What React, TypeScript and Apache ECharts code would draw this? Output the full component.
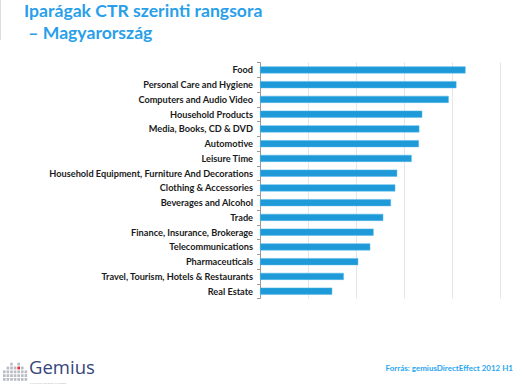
import React, { useEffect, useRef } from "react";
import * as echarts from "echarts";

const categories = [
  "Food",
  "Personal Care and Hygiene",
  "Computers and Audio Video",
  "Household Products",
  "Media, Books, CD & DVD",
  "Automotive",
  "Leisure Time",
  "Household Equipment, Furniture And Decorations",
  "Clothing & Accessories",
  "Beverages and Alcohol",
  "Trade",
  "Finance, Insurance, Brokerage",
  "Telecommunications",
  "Pharmaceuticals",
  "Travel, Tourism, Hotels & Restaurants",
  "Real Estate",
];
const values = [4.27, 4.08, 3.92, 3.37, 3.31, 3.3, 3.15, 2.85, 2.81, 2.72, 2.56, 2.36, 2.29, 2.04, 1.74, 1.5];
const titleLines = ["Iparágak CTR szerinti rangsora", " – Magyarország"];
const sourceText = "Forrás: gemiusDirectEffect 2012 H1";

export default function App() {
  const ref = useRef<HTMLDivElement>(null);
  useEffect(() => {
    const chart = echarts.init(ref.current!, null, { renderer: "svg" });
    const logoSquares: any[] = [];
    const cols = [2, 3, 4, 3, 4, 3, 2];
    for (let c = 0; c < 7; c++) {
      for (let r = 0; r < 6; r++) {
        const isRed = c === 4 && r === 2;
        logoSquares.push({
          type: "rect",
          shape: { x: 3 + c * 3.6, y: 359 + r * 3.8, width: 2.6, height: 2.8 },
          style: { fill: isRed ? "#e8262b" : r < 6 - cols[c] - 1 ? "#ffffff" : "#b9bcc4" },
        });
      }
    }
    chart.setOption({
      animation: false,
      grid: { left: 260, top: 62.5, width: 240.7, height: 236, containLabel: false },
      xAxis: {
        type: "value",
        min: 0,
        max: 5,
        interval: 1,
        axisLabel: { show: false },
        axisLine: { show: false },
        axisTick: { show: false },
        splitLine: { show: true, lineStyle: { color: "#e6e6e6", width: 1 } },
      },
      yAxis: {
        type: "category",
        data: categories,
        inverse: true,
        axisLine: { show: true, lineStyle: { color: "#9a9a9a", width: 1 } },
        axisTick: { show: true, length: 3, lineStyle: { color: "#9a9a9a" } },
        axisLabel: {
          color: "#1a1a1a",
          fontFamily: "Lato",
          fontWeight: "bold",
          fontSize: 9.2,
          margin: 7,
        },
      },
      series: [
        {
          type: "bar",
          data: values,
          barWidth: 7,
          itemStyle: { color: "#1e9ad9", borderColor: "#52b6e8", borderWidth: 0.5 },
        },
      ],
      graphic: [
        { type: "line", shape: { x1: 0.5, y1: 0, x2: 0.5, y2: 40 }, style: { stroke: "#dddddd", lineWidth: 1 } },
        {
          type: "text",
          left: 24,
          top: 1,
          style: { text: titleLines[0], fill: "#2a9fe9", font: "bold 17.6px Lato" },
        },
        {
          type: "text",
          left: 24,
          top: 23,
          style: { text: titleLines[1], fill: "#2a9fe9", font: "bold 17.6px Lato" },
        },
        ...logoSquares,
        {
          type: "text",
          left: 29,
          top: 357,
          style: { text: "Gemius", fill: "#36457a", font: "18.5px 'Open Sans'" },
        },
        {
          type: "text",
          left: 30,
          top: 381,
          style: { text: "THINKING  BEYOND  NUMBERS", fill: "#b0b4c0", font: "2.5px 'Open Sans'" },
        },
        {
          type: "text",
          right: 15,
          top: 364,
          style: { text: sourceText, fill: "#2aa6f2", font: "bold 8px Lato" },
        },
      ],
    });
    return () => chart.dispose();
  }, []);
  return <div ref={ref} style={{ width: 528, height: 387, position: "absolute", left: 0, top: 0, background: "#fff" }} />;
}
